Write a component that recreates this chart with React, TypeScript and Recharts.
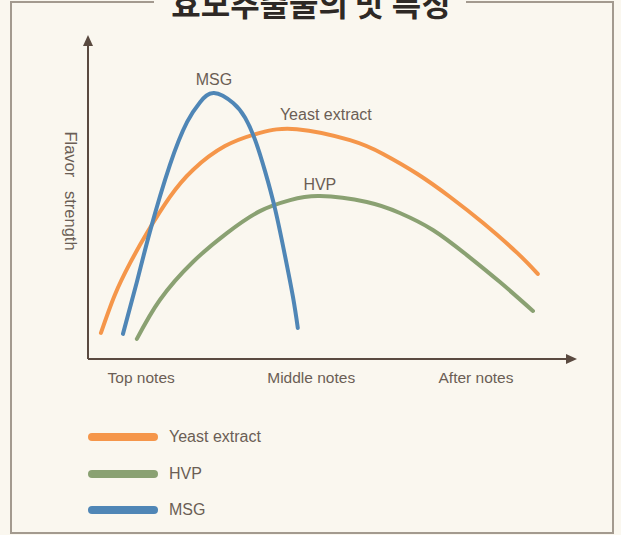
import { LineChart, Line, XAxis, YAxis, ReferenceDot, Legend } from "recharts";

// curve points (x = time along the taste, y = flavor strength, both 0..100)
const yeastX = [2.7, 5.6, 8.8, 12.3, 17.1, 21.9, 28.6, 35.9, 43.6, 54.7, 61.6, 68.7, 75.6, 82.5, 89.6, 93.9];
const yeastY = [8.3, 20.4, 30.6, 40.1, 51.6, 60.2, 67.8, 72.0, 73.2, 69.7, 65.3, 59.0, 51.6, 43.3, 33.8, 27.1];

const hvpX = [10.2, 15.0, 21.9, 29.0, 35.9, 42.2, 48.4, 58.2, 65.1, 72.0, 79.1, 86.0, 92.9];
const hvpY = [6.4, 18.8, 30.9, 40.1, 47.1, 50.6, 51.9, 50.0, 46.5, 41.1, 33.1, 24.5, 15.3];

const msgX = [7.3, 10.2, 12.9, 17.1, 20.7, 23.4, 26.3, 30.3, 32.8, 34.9, 37.0, 39.1, 41.1, 42.8, 43.8];
const msgY = [8.0, 24.5, 40.4, 61.8, 75.5, 81.8, 84.7, 81.5, 76.8, 69.7, 59.6, 47.5, 33.1, 19.7, 9.9];

const tickValues = [11.1, 46.6, 81.0];
const tickLabels = ["Top notes", "Middle notes", "After notes"];

const TITLE = "효모추출물의 맛 특징";
const Y_LABEL = "Flavor\u00A0\u00A0\u00A0strength";

const W = 621;
const H = 535;
const BG = "#faf7ef";
const AXIS = "#5a4a40";
const TEXT = "#6b5e55";
const FONT = "'Liberation Sans', Arial, sans-serif";

const series = [
  { name: "Yeast extract", color: "#f5964a", xs: yeastX, ys: yeastY, labelDx: 29, labelOffset: 9 },
  { name: "HVP", color: "#8aa172", xs: hvpX, ys: hvpY, labelDx: 0, labelOffset: 6 },
  { name: "MSG", color: "#4f86b6", xs: msgX, ys: msgY, labelDx: 0, labelOffset: 8 },
];

const toPoints = (xs: number[], ys: number[]) => xs.map((x, i) => ({ x, y: ys[i] }));

const Y_AXIS_W = 30;
const margin = { top: 45, right: 54, left: 88 - Y_AXIS_W, bottom: 146 };
const plotLeft = margin.left + Y_AXIS_W;
const plotBottom = H - margin.bottom - 30;
const plotRight = W - margin.right;

// legend drawn from the series list so it keeps the picture's order
const renderLegend = () => (
  <div style={{ display: "flex", flexDirection: "column", gap: 14.5 }}>
    {series.map((s) => (
      <div key={s.name} style={{ display: "flex", alignItems: "center", height: 22 }}>
        <div
          style={{
            width: 70,
            height: 8,
            borderRadius: 4,
            background: s.color,
            marginRight: 11,
          }}
        />
        <span style={{ fontFamily: FONT, fontSize: 16, color: TEXT }}>{s.name}</span>
      </div>
    ))}
  </div>
);

const renderYLabel = ({ viewBox }: any) => {
  const x = viewBox.x + 13;
  const y = viewBox.y + viewBox.height / 2 - 11;
  return (
    <text
      x={x}
      y={y}
      transform={`rotate(90, ${x}, ${y})`}
      textAnchor="middle"
      dominantBaseline="central"
      fill={TEXT}
      fontSize={16.5}
      fontFamily={FONT}
    >
      {Y_LABEL}
    </text>
  );
};

export default function App() {
  return (
    <div style={{ position: "absolute", left: 0, top: 0, width: W, height: H, background: BG, overflow: "hidden" }}>
      <div style={{ position: "absolute", left: 0, top: 0 }}>
        <LineChart width={W} height={H} margin={margin}>
          <XAxis
            type="number"
            dataKey="x"
            domain={[0, 100]}
            ticks={tickValues}
            tickFormatter={(v: number) => tickLabels[tickValues.indexOf(v)] ?? ""}
            tickLine={false}
            tickMargin={7}
            height={30}
            axisLine={{ stroke: AXIS, strokeWidth: 2 }}
            tick={{ fill: TEXT, fontSize: 15.5, fontFamily: FONT }}
            interval={0}
          />
          <YAxis
            type="number"
            dataKey="y"
            domain={[0, 100]}
            width={Y_AXIS_W}
            tick={false}
            tickLine={false}
            axisLine={{ stroke: AXIS, strokeWidth: 2 }}
            label={{ content: renderYLabel }}
          />
          {series.map((s) => (
            <Line
              key={s.name}
              name={s.name}
              data={toPoints(s.xs, s.ys)}
              dataKey="y"
              type="natural"
              stroke={s.color}
              strokeWidth={4}
              strokeLinecap="round"
              dot={false}
              activeDot={false}
              isAnimationActive={false}
            />
          ))}
          {series.map((s) => {
            const i = s.ys.indexOf(Math.max(...s.ys));
            return (
              <ReferenceDot
                key={"lbl-" + s.name}
                x={s.xs[i]}
                y={s.ys[i]}
                r={0}
                stroke="none"
                fill="none"
                label={{
                  value: s.name,
                  position: "top",
                  offset: s.labelOffset,
                  dx: s.labelDx,
                  style: { fill: TEXT, fontSize: 16, fontFamily: FONT },
                }}
              />
            );
          })}
          <Legend
            layout="horizontal"
            verticalAlign="middle"
            align="center"
            content={renderLegend}
            wrapperStyle={{ position: "absolute", left: 88, top: 426, width: 300 }}
          />
        </LineChart>
      </div>
      <svg width={W} height={H} style={{ position: "absolute", left: 0, top: 0, pointerEvents: "none" }}>
        <rect x={11} y={2} width={602} height={531} fill="none" stroke="#a39a8f" strokeWidth={2} />
        <rect x={154} y={0} width={312} height={14} fill={BG} />
        <text
          x={311}
          y={16}
          textAnchor="middle"
          fontFamily="'Noto Sans CJK KR', sans-serif"
          fontWeight={700}
          fontSize={32}
          fill="#2e2925"
        >
          {TITLE}
        </text>
        <polygon
          points={`${plotLeft},${margin.top - 10} ${plotLeft - 5},${margin.top + 1} ${plotLeft + 5},${margin.top + 1}`}
          fill={AXIS}
        />
        <polygon
          points={`${plotRight + 10},${plotBottom} ${plotRight - 1},${plotBottom - 5} ${plotRight - 1},${plotBottom + 5}`}
          fill={AXIS}
        />
      </svg>
    </div>
  );
}
